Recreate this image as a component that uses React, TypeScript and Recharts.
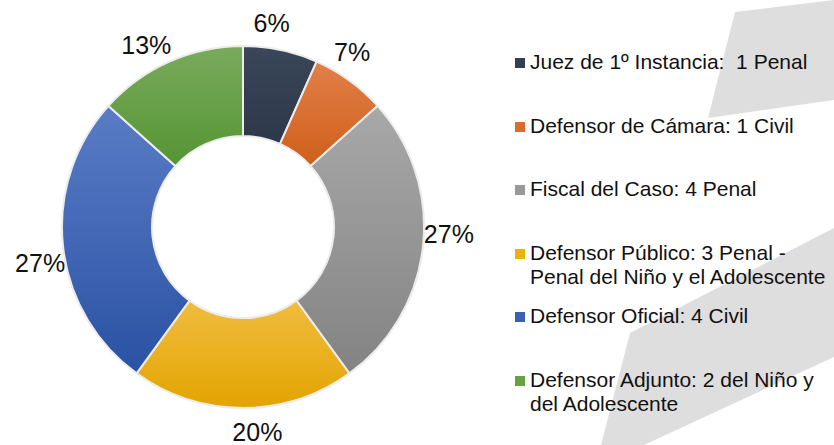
import React from "react";
import { Cell, Legend, Pie, PieChart } from "recharts";

const categories = [
  "Juez de 1º Instancia:  1 Penal",
  "Defensor de Cámara: 1 Civil",
  "Fiscal del Caso: 4 Penal",
  "Defensor Público: 3 Penal - Penal del Niño y el Adolescente",
  "Defensor Oficial: 4 Civil",
  "Defensor Adjunto: 2 del Niño y del Adolescente",
];
const counts = [1, 1, 4, 3, 4, 2];
const pctLabels = ["6%", "7%", "27%", "20%", "27%", "13%"];

const topColors = ["#3a4659", "#e27f48", "#a8a8a8", "#f1bc3f", "#5a7cc6", "#79ab5c"];
const bottomColors = ["#2d394a", "#cf5f1b", "#838383", "#e2a400", "#2a52a3", "#559434"];
const swatchColors = ["#333f50", "#dd6a26", "#999999", "#eab10f", "#3a62b4", "#66a144"];

const data = categories.map((name, i) => ({ name, value: counts[i] }));

const FONT = "'Liberation Sans', Arial, sans-serif";
const RADIAN = Math.PI / 180;

const renderLabel = (props: any) => {
  const { cx, cy, midAngle, outerRadius, index } = props;
  const a = (midAngle + 4) * RADIAN;
  const r = outerRadius + 25;
  const x = cx + r * Math.cos(a);
  const y = cy - r * Math.sin(a);
  return (
    <text
      x={x}
      y={y}
      textAnchor="middle"
      dominantBaseline="central"
      fontSize={25}
      fontFamily={FONT}
      fill="#111"
    >
      {pctLabels[index]}
    </text>
  );
};

const renderLegend = (props: any) => {
  const items = [...(props.payload || [])].sort(
    (a: any, b: any) => categories.indexOf(a.value) - categories.indexOf(b.value)
  );
  return (
    <div style={{ fontFamily: FONT, fontSize: 21, color: "#111" }}>
      {items.map((entry: any) => {
        const i = categories.indexOf(entry.value);
        return (
          <div key={i} style={{ display: "flex", alignItems: "flex-start", height: 63.6 }}>
            <div
              style={{
                width: 10,
                height: 10,
                marginTop: 8,
                background: swatchColors[i],
                flexShrink: 0,
              }}
            />
            <div style={{ marginLeft: 5, width: 304, lineHeight: "24px", whiteSpace: "pre-wrap" }}>
              {entry.value}
            </div>
          </div>
        );
      })}
    </div>
  );
};

export default function App() {
  return (
    <div style={{ position: "fixed", left: 0, top: 0, width: 834, height: 445, background: "#fff", overflow: "hidden" }}>
      <svg width={834} height={445} style={{ position: "absolute", left: 0, top: 0 }}>
        <polygon points="735,12 834,0 834,100 708,118" fill="#dedede" />
        <polygon points="834,228 630,333 601,445 644,445 834,357" fill="#dedede" />
      </svg>
      <div style={{ position: "absolute", left: 0, top: 0 }}>
        <PieChart width={834} height={445} margin={{ top: 0, right: 0, bottom: 0, left: 0 }}>
          <defs>
            {topColors.map((c, i) => (
              <linearGradient key={i} id={`sl${i}`} x1="0" y1="0" x2="0" y2="1">
                <stop offset="0%" stopColor={c} />
                <stop offset="100%" stopColor={bottomColors[i]} />
              </linearGradient>
            ))}
          </defs>
          <Pie
            data={data}
            dataKey="value"
            nameKey="name"
            cx={243}
            cy={227}
            innerRadius={91}
            outerRadius={181}
            startAngle={90}
            endAngle={-270}
            stroke="#ececec"
            strokeWidth={2}
            label={renderLabel}
            labelLine={false}
            isAnimationActive={false}
          >
            {data.map((_, i) => (
              <Cell key={i} fill={`url(#sl${i})`} />
            ))}
          </Pie>
          <Legend
            layout="vertical"
            align="right"
            verticalAlign="top"
            content={renderLegend}
            wrapperStyle={{ left: 515, top: 50, width: 319, right: "auto" }}
          />
        </PieChart>
      </div>
    </div>
  );
}
